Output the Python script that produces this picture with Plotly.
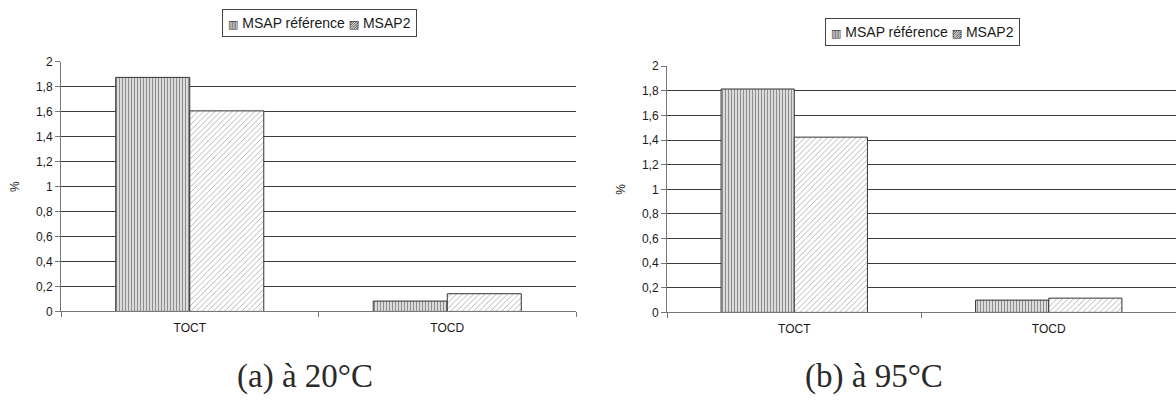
import plotly.graph_objects as go

categories = ["TOCT", "TOCD"]
series_names = ["MSAP référence", "MSAP2"]
left_ref = [1.875, 0.083]
left_msap2 = [1.607, 0.142]
right_ref = [1.815, 0.100]
right_msap2 = [1.424, 0.116]
y_ticks = [0, 0.2, 0.4, 0.6, 0.8, 1.0, 1.2, 1.4, 1.6, 1.8, 2.0]
y_ticklabels = ["0", "0,2", "0,4", "0,6", "0,8", "1", "1,2", "1,4", "1,6", "1,8", "2"]
captions = ["(a) à 20°C", "(b) à 95°C"]
legend_keys = ["▥", "▨"]

W, H = 1176, 418
GRID = "#3c3c3c"
AX = "#777777"
FONT = "Liberation Sans, Arial, DejaVu Sans, sans-serif"
TXT = "#1a1a1a"

fig = go.Figure()

ref_pattern = dict(shape="|", fgcolor="#1e1e1e", bgcolor="white", size=3, solidity=0.55)
m2_pattern = dict(shape="/", fgcolor="#5a5a5a", bgcolor="white", size=4, solidity=0.22)

for i, (refv, m2v) in enumerate([(left_ref, left_msap2), (right_ref, right_msap2)]):
    xa = "x" if i == 0 else "x2"
    ya = "y" if i == 0 else "y2"
    fig.add_trace(go.Bar(x=categories, y=refv, name=series_names[0], xaxis=xa, yaxis=ya,
                         marker=dict(color="white", pattern=ref_pattern, line=dict(color="#333333", width=1)),
                         showlegend=False))
    fig.add_trace(go.Bar(x=categories, y=m2v, name=series_names[1], xaxis=xa, yaxis=ya,
                         marker=dict(color="white", pattern=m2_pattern, line=dict(color="#333333", width=1)),
                         showlegend=False))

def px_x(v):
    return v / W

def px_y(v):
    return 1 - v / H

xcommon = dict(type="category", showgrid=False, showline=True, linecolor=AX, linewidth=1,
               ticks="outside", tickson="boundaries", ticklen=5, tickcolor=AX, ticklabelstandoff=5,
               tickfont=dict(family=FONT, size=12, color=TXT), zeroline=False, fixedrange=True)
ycommon = dict(range=[0, 2], tickvals=y_ticks, ticktext=y_ticklabels, showgrid=True, gridcolor=GRID,
               gridwidth=1, showline=True, linecolor=AX, linewidth=1, ticks="outside", ticklen=5,
               tickcolor=AX, tickfont=dict(family=FONT, size=12, color=TXT), zeroline=False,
               title=dict(text="%", font=dict(family=FONT, size=12, color=TXT), standoff=13),
               fixedrange=True)

sym = '<span style="font-size:11px">{}</span> '
legend_text = (sym.format(legend_keys[0]) + series_names[0] + " " +
               sym.format(legend_keys[1]) + series_names[1])

fig.update_layout(
    width=W, height=H,
    margin=dict(l=0, r=0, t=0, b=0),
    paper_bgcolor="white", plot_bgcolor="white",
    barmode="group", bargap=0.425, bargroupgap=0,
    showlegend=False,
    xaxis=dict(domain=[px_x(61), px_x(576)], anchor="y", **xcommon),
    yaxis=dict(domain=[px_y(315), px_y(56.7)], anchor="x", **ycommon),
    xaxis2=dict(domain=[px_x(667), 1.0], anchor="y2", **xcommon),
    yaxis2=dict(domain=[px_y(316), px_y(61.3)], anchor="x2", **ycommon),
    annotations=[
        dict(text=legend_text, x=px_x(319), y=px_y(17), xref="paper", yref="paper",
             showarrow=False, xanchor="center", yanchor="middle",
             bordercolor="#444444", borderwidth=1, borderpad=5, bgcolor="white",
             font=dict(family=FONT, size=14, color=TXT)),
        dict(text=legend_text, x=px_x(922), y=px_y(26), xref="paper", yref="paper",
             showarrow=False, xanchor="center", yanchor="middle",
             bordercolor="#444444", borderwidth=1, borderpad=5, bgcolor="white",
             font=dict(family=FONT, size=14, color=TXT)),
        dict(text=captions[0], x=px_x(305), y=px_y(382), xref="paper", yref="paper",
             showarrow=False, xanchor="center", yanchor="middle",
             font=dict(family="Liberation Serif, serif", size=33, color="#2a2a2a")),
        dict(text=captions[1], x=px_x(874), y=px_y(382), xref="paper", yref="paper",
             showarrow=False, xanchor="center", yanchor="middle",
             font=dict(family="Liberation Serif, serif", size=33, color="#2a2a2a")),
    ],
)

fig.write_html("out.html", config={"displayModeBar": False},
               post_script="document.body.style.margin='0';document.body.style.overflow='hidden';")
